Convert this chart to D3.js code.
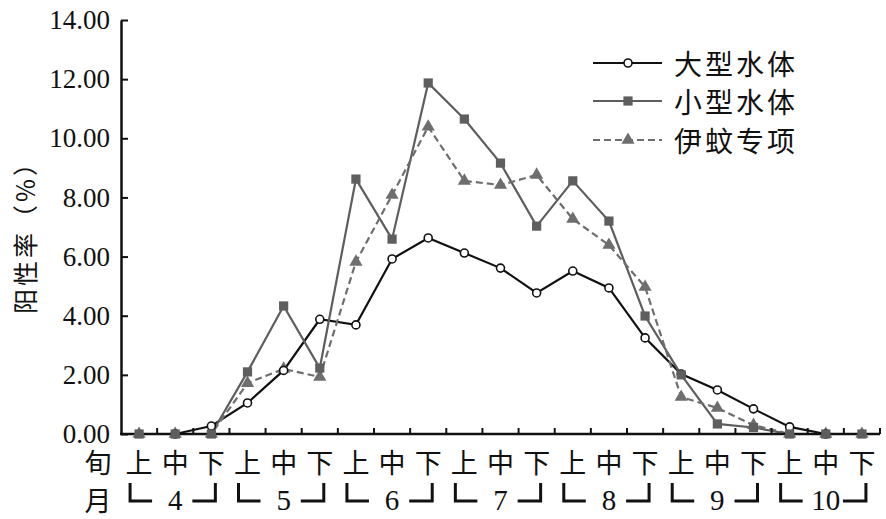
<!DOCTYPE html>
<html>
<head>
<meta charset="utf-8">
<script src="https://cdn.jsdelivr.net/npm/d3@7"></script>
<style>
body { margin: 0; background: #fff; }
</style>
</head>
<body>
<script>
// data
var xuns = ["上", "中", "下"];
var months = ["4", "5", "6", "7", "8", "9", "10"];
var yTicks = [0, 2, 4, 6, 8, 10, 12, 14];
var seriesNames = ["大型水体", "小型水体", "伊蚊专项"];
var bigWater   = [null, 0, 0.27, 1.05, 2.15, 3.88, 3.69, 5.92, 6.63, 6.12, 5.61, 4.77, 5.51, 4.94, 3.25, 2.03, 1.49, 0.85, 0.24, 0, null];
var smallWater = [0, 0, 0, 2.10, 4.33, 2.23, 8.62, 6.59, 11.87, 10.65, 9.16, 7.03, 8.56, 7.20, 3.99, 2.00, 0.34, 0.22, 0, 0, 0];
var aedes      = [0, 0, 0, 1.72, 2.20, 1.93, 5.82, 8.08, 10.39, 8.56, 8.42, 8.76, 7.27, 6.39, 4.97, 1.25, 0.88, 0.30, 0, 0, 0];

var keys = [];
months.forEach(function(m) {
    xuns.forEach(function(x) { keys.push(m + "-" + x); });
});

var W = 886, H = 519;
var plotLeft = 121, plotRight = 880, plotTop = 20, plotBottom = 434;
var serif = "'Liberation Serif', 'Times New Roman', serif";
var cjk = "'Noto Sans CJK SC', sans-serif";

var svg = d3.select("body").append("svg")
    .attr("width", W)
    .attr("height", H);

var x = d3.scaleBand().domain(keys).range([plotLeft, plotRight]);
var bw = x.bandwidth();
function cx(i) { return x(keys[i]) + bw / 2; }

var y = d3.scaleLinear().domain([0, 14]).range([plotBottom, plotTop]);

var series = [
    {name: seriesNames[0], values: bigWater, color: "#111", width: 2.2, dash: null, marker: "circle"},
    {name: seriesNames[1], values: smallWater, color: "#5e5e5e", width: 2.2, dash: null, marker: "square"},
    {name: seriesNames[2], values: aedes, color: "#6e6e6e", width: 2.2, dash: "7,4", marker: "triangle"}
];

var line = d3.line()
    .defined(function(d) { return d != null; })
    .x(function(d, i) { return cx(i); })
    .y(function(d) { return y(d); });

// lines first
series.forEach(function(s) {
    svg.append("path")
        .attr("d", line(s.values))
        .attr("fill", "none")
        .attr("stroke", s.color)
        .attr("stroke-width", s.width)
        .attr("stroke-dasharray", s.dash);
});

// y axis, ticks point inside
var yAxis = svg.append("g")
    .attr("transform", "translate(" + plotLeft + ",0)")
    .call(d3.axisLeft(y).tickValues(yTicks).tickFormat(d3.format(".2f"))
        .tickSizeInner(-7).tickSizeOuter(0).tickPadding(11));
yAxis.select(".domain").attr("stroke", "#111").attr("stroke-width", 2.5);
yAxis.selectAll(".tick line").attr("stroke", "#111").attr("stroke-width", 2);
yAxis.selectAll(".tick text")
    .attr("font-family", serif)
    .attr("font-size", 27)
    .attr("fill", "#111");

// x axis: line plus ticks on band boundaries
svg.append("line")
    .attr("x1", plotLeft - 1).attr("x2", plotRight)
    .attr("y1", plotBottom).attr("y2", plotBottom)
    .attr("stroke", "#111").attr("stroke-width", 2.5);
svg.selectAll(".xtick")
    .data(keys)
    .enter().append("line")
    .attr("class", "xtick")
    .attr("x1", function(d) { return x(d) + bw; })
    .attr("x2", function(d) { return x(d) + bw; })
    .attr("y1", plotBottom)
    .attr("y2", plotBottom - 6)
    .attr("stroke", "#111").attr("stroke-width", 2);

// markers: triangles, circles, then squares on top
var symbolOf = {
    circle: d3.symbol().type(d3.symbolCircle).size(50),
    square: d3.symbol().type(d3.symbolSquare).size(85),
    triangle: d3.symbol().type(d3.symbolTriangle).size(75)
};
[series[2], series[0], series[1]].forEach(function(s) {
    svg.selectAll(null)
        .data(s.values.map(function(v, i) { return {v: v, i: i}; }).filter(function(d) { return d.v != null; }))
        .enter().append("path")
        .attr("d", symbolOf[s.marker]())
        .attr("transform", function(d) { return "translate(" + cx(d.i) + "," + y(d.v) + ")"; })
        .attr("fill", s.marker == "circle" ? "#fff" : s.color)
        .attr("stroke", s.marker == "circle" ? "#111" : "none")
        .attr("stroke-width", 1.6);
});

// category labels
svg.selectAll(".xun")
    .data(keys)
    .enter().append("text")
    .attr("x", function(d) { return x(d) + bw / 2; })
    .attr("y", 461)
    .attr("text-anchor", "middle")
    .attr("dominant-baseline", "central")
    .attr("font-family", cjk)
    .attr("font-size", 27)
    .attr("fill", "#111")
    .text(function(d) { return d.split("-")[1]; });

svg.append("text")
    .attr("x", 98).attr("y", 461)
    .attr("text-anchor", "middle").attr("dominant-baseline", "central")
    .attr("font-family", cjk).attr("font-size", 27).attr("fill", "#111")
    .text("旬");
svg.append("text")
    .attr("x", 98).attr("y", 499)
    .attr("text-anchor", "middle").attr("dominant-baseline", "central")
    .attr("font-family", cjk).attr("font-size", 27).attr("fill", "#111")
    .text("月");

// month brackets
months.forEach(function(m, mi) {
    var c0 = cx(mi * 3), c1 = cx(mi * 3 + 1), c2 = cx(mi * 3 + 2);
    svg.append("path")
        .attr("d", "M" + (c0 - 9) + ",483 V501 H" + (c0 + 13))
        .attr("fill", "none").attr("stroke", "#111").attr("stroke-width", 3);
    svg.append("path")
        .attr("d", "M" + (c2 - 19) + ",501 H" + (c2 + 4) + " V483")
        .attr("fill", "none").attr("stroke", "#111").attr("stroke-width", 3);
    svg.append("text")
        .attr("x", c1).attr("y", 510)
        .attr("text-anchor", "middle")
        .attr("font-family", serif).attr("font-size", 29).attr("fill", "#111")
        .text(m);
});

// y title
svg.append("text")
    .attr("transform", "translate(24,231) rotate(-90)")
    .attr("text-anchor", "middle")
    .attr("dominant-baseline", "central")
    .attr("font-family", cjk)
    .attr("font-size", 25)
    .attr("letter-spacing", 3)
    .attr("fill", "#111")
    .text("阳性率（%）");

// legend
var legendY = [63, 101, 140];
series.forEach(function(s, i) {
    var g = svg.append("g").attr("transform", "translate(0," + legendY[i] + ")");
    g.append("line")
        .attr("x1", 593).attr("x2", 662)
        .attr("stroke", s.color).attr("stroke-width", s.width)
        .attr("stroke-dasharray", s.dash);
    g.append("path")
        .attr("d", symbolOf[s.marker]())
        .attr("transform", "translate(628,0)")
        .attr("fill", s.marker == "circle" ? "#fff" : s.color)
        .attr("stroke", s.marker == "circle" ? "#111" : "none")
        .attr("stroke-width", 1.6);
    g.append("text")
        .attr("x", 674)
        .attr("dominant-baseline", "central")
        .attr("font-family", cjk)
        .attr("font-size", 28)
        .attr("letter-spacing", 3)
        .attr("fill", "#111")
        .text(s.name);
});
</script>
</body>
</html>
